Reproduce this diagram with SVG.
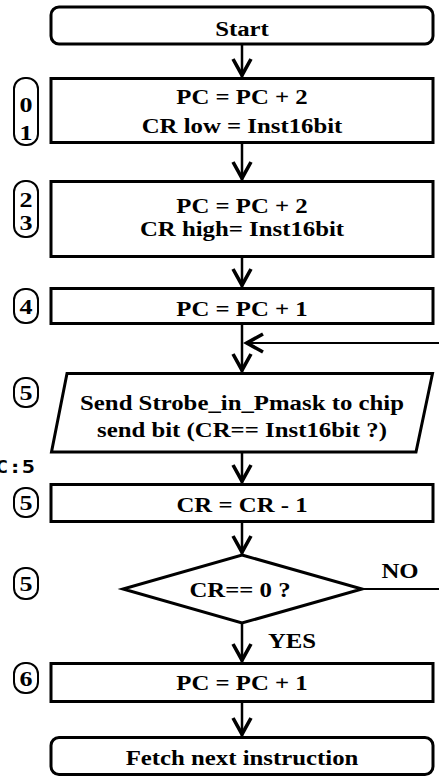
<svg xmlns="http://www.w3.org/2000/svg" width="439" height="778" viewBox="0 0 439 778">
  <style>
    .box { fill: #fff; stroke: #000; stroke-width: 3; }
    .pill { fill: #fff; stroke: #000; stroke-width: 2; }
    .t { font-family: "Liberation Serif", "Times New Roman", serif; font-weight: bold; font-size: 20px; text-anchor: middle; fill: #000; }
    .d { font-family: "Liberation Serif", "Times New Roman", serif; font-weight: bold; font-size: 21px; text-anchor: middle; fill: #000; }
    .flow { fill: none; stroke: #000; stroke-width: 2.5; }
    .thin { fill: none; stroke: #000; stroke-width: 2; }
    .mono { font-family: "DejaVu Sans Mono", "Liberation Mono", monospace; font-weight: bold; font-size: 17px; text-anchor: end; fill: #000; }
  </style>
  <defs>
    <marker id="arrow" markerUnits="userSpaceOnUse" markerWidth="24" markerHeight="24" viewBox="-18 -10 20 20" refX="0" refY="0" orient="auto" overflow="visible">
      <path d="M-15,-7.5 L-1.5,0 L-15,7.5" fill="none" stroke="#000" stroke-width="3"/>
    </marker>
  </defs>

  <rect width="439" height="778" fill="#fff"/>

  <!-- connectors -->
  <g id="connectors">
    <line class="flow" x1="242" y1="45" x2="242" y2="77" marker-end="url(#arrow)"/>
    <line class="flow" x1="242" y1="144" x2="242" y2="180" marker-end="url(#arrow)"/>
    <line class="flow" x1="242" y1="258" x2="242" y2="287" marker-end="url(#arrow)"/>
    <line class="flow" x1="242" y1="325" x2="242" y2="372" marker-end="url(#arrow)"/>
    <line class="flow" x1="242" y1="453" x2="242" y2="483" marker-end="url(#arrow)"/>
    <line class="flow" x1="242" y1="523" x2="242" y2="554" marker-end="url(#arrow)"/>
    <line class="flow" x1="242" y1="623" x2="242" y2="662" marker-end="url(#arrow)"/>
    <line class="flow" x1="242" y1="703" x2="242" y2="736" marker-end="url(#arrow)"/>
    <!-- loop back from NO branch -->
    <line class="thin" x1="440" y1="343" x2="245" y2="343" marker-end="url(#arrow)"/>
    <line class="thin" x1="362" y1="589" x2="440" y2="589"/>
    <text class="t" transform="translate(400 578) scale(1.24 1)">NO</text>
    <text class="t" transform="translate(292 648) scale(1.24 1)">YES</text>
  </g>

  <!-- step numbers -->
  <g id="steps">
    <rect class="pill" x="14" y="78" width="24" height="67" rx="11"/>
    <text class="d" transform="translate(26 112) scale(1.24 1)">0</text>
    <text class="d" transform="translate(26 140) scale(1.24 1)">1</text>

    <rect class="pill" x="14" y="181" width="24" height="56" rx="11"/>
    <text class="d" transform="translate(26 207) scale(1.24 1)">2</text>
    <text class="d" transform="translate(26 230) scale(1.24 1)">3</text>

    <rect class="pill" x="14" y="289" width="24" height="34" rx="11"/>
    <text class="d" transform="translate(26 314) scale(1.24 1)">4</text>

    <rect class="pill" x="14" y="378" width="24" height="29" rx="11"/>
    <text class="d" transform="translate(26 400) scale(1.24 1)">5</text>

    <rect class="pill" x="14" y="488" width="24" height="29" rx="11"/>
    <text class="d" transform="translate(26 510) scale(1.24 1)">5</text>

    <rect class="pill" x="14" y="568" width="24" height="31" rx="11"/>
    <text class="d" transform="translate(26 591) scale(1.24 1)">5</text>

    <rect class="pill" x="14" y="663" width="24" height="30" rx="11"/>
    <text class="d" transform="translate(26 686) scale(1.24 1)">6</text>

    <text class="mono" transform="translate(35 473) scale(1.3 1)">C:5</text>
  </g>

  <g id="start">
    <rect class="box" x="51" y="7" width="382" height="37" rx="8"/>
    <text class="t" transform="translate(242 36) scale(1.24 1)">Start</text>
  </g>

  <g id="load-low">
    <rect class="box" x="51" y="78.5" width="382" height="64"/>
    <text class="t" transform="translate(242 104) scale(1.24 1)">PC = PC + 2</text>
    <text class="t" transform="translate(242 133) scale(1.24 1)">CR low = Inst16bit</text>
  </g>

  <g id="load-high">
    <rect class="box" x="51" y="181.5" width="382" height="75"/>
    <text class="t" transform="translate(242 212.5) scale(1.24 1)">PC = PC + 2</text>
    <text class="t" transform="translate(242 236) scale(1.24 1)">CR high= Inst16bit</text>
  </g>

  <g id="pc-inc-1">
    <rect class="box" x="51" y="288.5" width="382" height="35"/>
    <text class="t" transform="translate(242 316) scale(1.24 1)">PC = PC + 1</text>
  </g>

  <g id="send-strobe">
    <polygon class="box" points="67,373.5 432.5,373.5 416,452 51.5,452"/>
    <text class="t" transform="translate(242 410) scale(1.24 1)">Send Strobe_in_Pmask to chip</text>
    <text class="t" transform="translate(242 437) scale(1.24 1)">send bit (CR== Inst16bit ?)</text>
  </g>

  <g id="cr-dec">
    <rect class="box" x="51" y="484.5" width="382" height="37"/>
    <text class="t" transform="translate(242 511.5) scale(1.24 1)">CR = CR - 1</text>
  </g>

  <g id="cr-zero">
    <polygon class="box" points="242,555 362,589 242,623 123,589"/>
    <text class="t" transform="translate(240 597) scale(1.24 1)">CR== 0 ?</text>
  </g>

  <g id="pc-inc-2">
    <rect class="box" x="51" y="663.5" width="382" height="38"/>
    <text class="t" transform="translate(242 690) scale(1.24 1)">PC = PC + 1</text>
  </g>

  <g id="fetch">
    <rect class="box" x="51" y="737.5" width="382" height="37" rx="8"/>
    <text class="t" transform="translate(242 765) scale(1.24 1)">Fetch next instruction</text>
  </g>
</svg>
